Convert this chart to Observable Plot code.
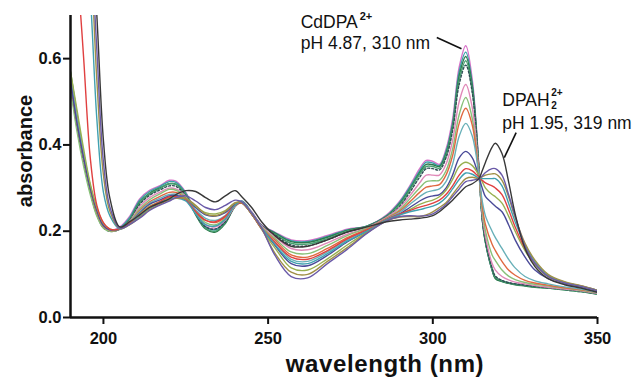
<!DOCTYPE html>
<html><head><meta charset="utf-8">
<script src="https://cdn.jsdelivr.net/npm/d3@7"></script>
<script src="https://cdn.jsdelivr.net/npm/@observablehq/plot@0.6"></script>
<style>
body{margin:0;background:#fff;}
#chart svg{display:block;font-family:"Liberation Sans",Arial,sans-serif;}
</style></head><body><div id="chart"></div>
<script>
const wavelengths = [190,192,194,196,198,200,202,205,208,211,214,217,220,222,225,228,231,234,237,240,242,245,248,252,257,262,268,274,280,286,290,293,296,298,300,302,304,306,308,310,312,314,315,316,318,319,321,323,325,328,331,335,340,345,350];

const s01 = [0.55,0.45,0.37,0.30,0.245,0.212,0.202, 0.21,0.235,0.275,0.295,0.305,0.318,0.316,0.29,0.245,0.212,0.205,0.225,0.262,0.27,0.245,0.215, 0.198,0.18,0.178,0.19,0.205,0.212,0.238,0.27,0.305,0.345,0.364,0.362, 0.355,0.39,0.46,0.58,0.63,0.55,0.35,0.23,0.175,0.11,0.092,0.085,0.08,0.078,0.075,0.072,0.07,0.066,0.062,0.055];
const s02 = [0.56,0.46,0.375,0.30,0.245,0.21,0.2, 0.208,0.232,0.272,0.292,0.303,0.315,0.313,0.288,0.242,0.21,0.203,0.222,0.26,0.27,0.244,0.214, 0.197,0.178,0.176,0.188,0.203,0.212,0.236,0.268,0.302,0.34,0.36,0.358, 0.352,0.385,0.45,0.57,0.615,0.54,0.345,0.228,0.173,0.11,0.091,0.084,0.08,0.077,0.074,0.071,0.069,0.065,0.061,0.055];
const s03 = [0.57,0.47,0.38,0.305,0.25,0.213,0.2, 0.205,0.228,0.268,0.288,0.3,0.31,0.309,0.285,0.238,0.205,0.198,0.218,0.258,0.268,0.242,0.212, 0.196,0.176,0.174,0.186,0.202,0.212,0.235,0.265,0.298,0.336,0.355,0.354, 0.35,0.38,0.445,0.56,0.605,0.535,0.345,0.228,0.173,0.11,0.09,0.083,0.079,0.076,0.073,0.07,0.068,0.064,0.06,0.054];
const s04 = [0.55,0.45,0.365,0.295,0.24,0.21,0.2, 0.205,0.226,0.265,0.286,0.298,0.31,0.308,0.285,0.24,0.207,0.2,0.22,0.258,0.268,0.242,0.212, 0.194,0.172,0.17,0.183,0.2,0.211,0.234,0.262,0.295,0.332,0.35,0.35, 0.346,0.375,0.44,0.55,0.595,0.525,0.343,0.23,0.175,0.112,0.093,0.085,0.08,0.077,0.074,0.071,0.068,0.064,0.06,0.054];
const s05 = [0.54,0.44,0.36,0.29,0.238,0.208,0.2, 0.205,0.225,0.262,0.283,0.295,0.305,0.304,0.282,0.24,0.21,0.205,0.222,0.258,0.268,0.243,0.213, 0.192,0.168,0.166,0.18,0.198,0.21,0.233,0.258,0.29,0.325,0.345,0.345, 0.342,0.37,0.432,0.54,0.585,0.52,0.342,0.232,0.177,0.115,0.096,0.086,0.081,0.078,0.075,0.072,0.069,0.065,0.061,0.055];
const s06 = [0.56,0.46,0.37,0.30,0.245,0.21,0.2, 0.205,0.223,0.257,0.278,0.29,0.30,0.298,0.28,0.242,0.215,0.21,0.226,0.258,0.268,0.243,0.212, 0.188,0.16,0.157,0.173,0.193,0.208,0.232,0.255,0.282,0.312,0.33,0.33, 0.33,0.355,0.41,0.5,0.54,0.485,0.335,0.24,0.188,0.125,0.11,0.095,0.087,0.082,0.078,0.074,0.07,0.066,0.062,0.056];
const s07 = [0.53,0.43,0.35,0.285,0.235,0.207,0.2, 0.205,0.222,0.252,0.273,0.286,0.297,0.295,0.278,0.245,0.22,0.215,0.23,0.26,0.268,0.242,0.21, 0.184,0.152,0.148,0.167,0.19,0.207,0.23,0.25,0.275,0.3,0.315,0.317, 0.318,0.34,0.39,0.47,0.51,0.46,0.33,0.25,0.2,0.145,0.132,0.11,0.096,0.088,0.081,0.077,0.073,0.068,0.063,0.057];
const s08 = [0.55,0.45,0.37,0.30,0.245,0.212,0.202, 0.205,0.22,0.248,0.268,0.28,0.29,0.29,0.276,0.248,0.226,0.22,0.233,0.26,0.266,0.24,0.208, 0.18,0.145,0.14,0.16,0.185,0.205,0.23,0.247,0.268,0.29,0.302,0.305, 0.308,0.33,0.375,0.45,0.485,0.445,0.33,0.26,0.215,0.17,0.155,0.13,0.11,0.098,0.086,0.08,0.075,0.069,0.064,0.058];
const s09 = [0.56,0.46,0.38,0.305,0.25,0.215,0.203, 0.205,0.22,0.245,0.265,0.276,0.285,0.286,0.275,0.25,0.23,0.225,0.236,0.261,0.266,0.24,0.207, 0.175,0.135,0.13,0.152,0.18,0.203,0.228,0.244,0.262,0.28,0.29,0.294, 0.298,0.315,0.355,0.42,0.45,0.42,0.33,0.27,0.235,0.2,0.185,0.16,0.135,0.115,0.095,0.085,0.078,0.071,0.066,0.058];
const s10 = [0.55,0.45,0.37,0.30,0.248,0.213,0.203, 0.205,0.218,0.242,0.262,0.272,0.282,0.283,0.276,0.255,0.238,0.235,0.243,0.263,0.266,0.24,0.206, 0.168,0.125,0.12,0.144,0.175,0.2,0.227,0.24,0.255,0.27,0.278,0.282, 0.285,0.3,0.33,0.37,0.385,0.37,0.325,0.3,0.28,0.265,0.258,0.245,0.215,0.18,0.14,0.11,0.09,0.078,0.07,0.06];
const s11 = [0.57,0.48,0.39,0.31,0.255,0.218,0.205, 0.205,0.218,0.24,0.258,0.268,0.278,0.28,0.276,0.258,0.243,0.24,0.248,0.265,0.266,0.24,0.205, 0.162,0.115,0.11,0.136,0.168,0.198,0.226,0.238,0.25,0.262,0.268,0.272, 0.28,0.295,0.32,0.35,0.36,0.352,0.33,0.315,0.3,0.285,0.28,0.265,0.235,0.2,0.155,0.122,0.094,0.08,0.072,0.062];
const s12 = [1.0,0.82,0.60,0.37,0.26,0.22,0.205, 0.205,0.218,0.238,0.256,0.268,0.28,0.28,0.272,0.245,0.225,0.222,0.235,0.26,0.265,0.24,0.206, 0.175,0.14,0.135,0.155,0.182,0.203,0.227,0.24,0.248,0.256,0.26,0.265, 0.272,0.285,0.305,0.33,0.345,0.34,0.325,0.318,0.312,0.305,0.30,0.285,0.25,0.21,0.16,0.126,0.096,0.081,0.073,0.063];
const s13 = [1.3,1.1,0.95,0.75,0.46,0.29,0.235, 0.205,0.216,0.235,0.252,0.265,0.275,0.277,0.27,0.24,0.215,0.212,0.228,0.26,0.268,0.242,0.208, 0.17,0.13,0.125,0.148,0.177,0.2,0.226,0.238,0.245,0.25,0.254,0.258, 0.265,0.278,0.298,0.32,0.335,0.332,0.323,0.322,0.322,0.322,0.322,0.305,0.265,0.222,0.168,0.13,0.098,0.082,0.073,0.063];
const s14 = [1.4,1.2,1.0,0.85,0.55,0.33,0.245, 0.206,0.215,0.232,0.25,0.262,0.272,0.276,0.276,0.26,0.24,0.236,0.246,0.266,0.266,0.24,0.206, 0.15,0.105,0.1,0.13,0.162,0.196,0.224,0.233,0.234,0.234,0.238,0.245, 0.255,0.266,0.285,0.305,0.322,0.325,0.322,0.326,0.33,0.333,0.333,0.318,0.28,0.232,0.172,0.133,0.1,0.083,0.074,0.063];
const s15 = [1.5,1.3,1.1,0.9,0.62,0.36,0.255, 0.207,0.216,0.23,0.248,0.26,0.27,0.278,0.282,0.27,0.255,0.25,0.26,0.272,0.268,0.242,0.208, 0.145,0.095,0.092,0.125,0.158,0.195,0.224,0.234,0.236,0.235,0.236,0.24, 0.25,0.262,0.28,0.298,0.315,0.318,0.322,0.328,0.336,0.345,0.345,0.33,0.285,0.235,0.165,0.125,0.095,0.08,0.072,0.062];
const s16 = [1.6,1.4,1.2,0.95,0.70,0.41,0.275, 0.21,0.222,0.238,0.255,0.265,0.275,0.285,0.294,0.292,0.278,0.268,0.282,0.294,0.28,0.255,0.222, 0.19,0.165,0.165,0.18,0.198,0.21,0.222,0.226,0.228,0.23,0.232,0.236, 0.245,0.258,0.272,0.288,0.303,0.31,0.322,0.34,0.36,0.395,0.404,0.38,0.315,0.24,0.16,0.118,0.09,0.076,0.068,0.058];

const spectra = [s01,s02,s03,s04,s05,s06,s07,s08,s09,s10,s11,s12,s13,s14,s15,s16];
const spectrumColors = ["#d870c8","#3aa0a8","#2e7a4e","#48a070","#2f4f55","#e088b8","#88c078","#e06840","#68b0b8","#4a4a98","#98b050","#e04040","#40a0b0","#a09048","#6a5aa8","#383838"];
const spectrumDash = [null,null,null,null,"2,2",null,null,null,null,null,null,null,null,null,null,null];

const xTicks = [200,250,300,350];
const yTicks = [0,0.2,0.4,0.6];
const xDomain = [190,350];
const yDomain = [0,0.7];

const labelText = ["CdDPA","pH 4.87, 310 nm","DPAH","pH 1.95, 319 nm"];
const labelX = [259.9,259.9,321.1,321.1];
const labelY = [0.672,0.623,0.49,0.438];
const leaderX1 = [301.2,325.3];
const leaderY1 = [0.649,0.4285];
const leaderX2 = [308.7,321.7];
const leaderY2 = [0.623,0.3706];

const labels = labelText.map((t,i)=>({t, x:labelX[i], y:labelY[i]}));
const leaders = leaderX1.map((x,i)=>({x1:x, y1:leaderY1[i], x2:leaderX2[i], y2:leaderY2[i]}));

const lineMarks = spectra.map((vals,i)=>Plot.line(
  wavelengths.map((w,j)=>({w, a:vals[j]})),
  {x:"w", y:"a", stroke:spectrumColors[i], strokeWidth:1.4, curve:"catmull-rom", clip:true,
   strokeDasharray: spectrumDash[i] || undefined}
));

const fs = 17.5;
const chart = Plot.plot({
  width:635, height:380,
  marginTop:15, marginBottom:63, marginLeft:70, marginRight:38,
  x:{domain:xDomain},
  y:{domain:yDomain},
  style:{fontFamily:'"Liberation Sans",Arial,sans-serif', color:"#111"},
  marks:[
    ...lineMarks,
    Plot.axisX({ticks:xTicks, tickSize:7, tickPadding:8, fontSize:16.5, fontWeight:"bold", strokeWidth:2, label:null}),
    Plot.axisY({ticks:yTicks, tickSize:7, tickPadding:2, fontSize:16.5, fontWeight:"bold", strokeWidth:2, tickFormat:d3.format(".1f"), label:null}),
    Plot.ruleY([yDomain[0]], {stroke:"#111", strokeWidth:2.5}),
    Plot.ruleX([xDomain[0]], {y1:yDomain[0], y2:yDomain[1], stroke:"#111", strokeWidth:2.5}),
    Plot.link(leaders, {x1:"x1", y1:"y1", x2:"x2", y2:"y2", stroke:"#111", strokeWidth:1.6}),
    Plot.text(labels, {x:"x", y:"y", text:"t", textAnchor:"start", lineAnchor:"bottom", fontSize:fs, fill:"#111"}),
    Plot.text([labels[0]], {x:"x", y:"y", text:()=>"2+", textAnchor:"start", lineAnchor:"bottom", fontSize:11, fontWeight:"bold", dx:59, dy:-8, fill:"#111"}),
    Plot.text([labels[2]], {x:"x", y:"y", text:()=>"2+", textAnchor:"start", lineAnchor:"bottom", fontSize:10, fontWeight:"bold", dx:49, dy:-10, fill:"#111"}),
    Plot.text([labels[2]], {x:"x", y:"y", text:()=>"2", textAnchor:"start", lineAnchor:"bottom", fontSize:10, fontWeight:"bold", dx:49, dy:3, fill:"#111"})
  ]
});

const svg = d3.select(chart);
svg.append("text").attr("x",385).attr("y",372).attr("text-anchor","middle")
  .style("font-size","24px").style("font-weight","bold").style("letter-spacing","0.6px").attr("fill","#111").text("wavelength (nm)");
svg.append("text").attr("transform","translate(32,151) rotate(-90)").attr("text-anchor","middle")
  .style("font-size","20px").style("font-weight","bold").attr("fill","#111").text("absorbance");

document.getElementById("chart").appendChild(chart);
</script>
</body></html>
